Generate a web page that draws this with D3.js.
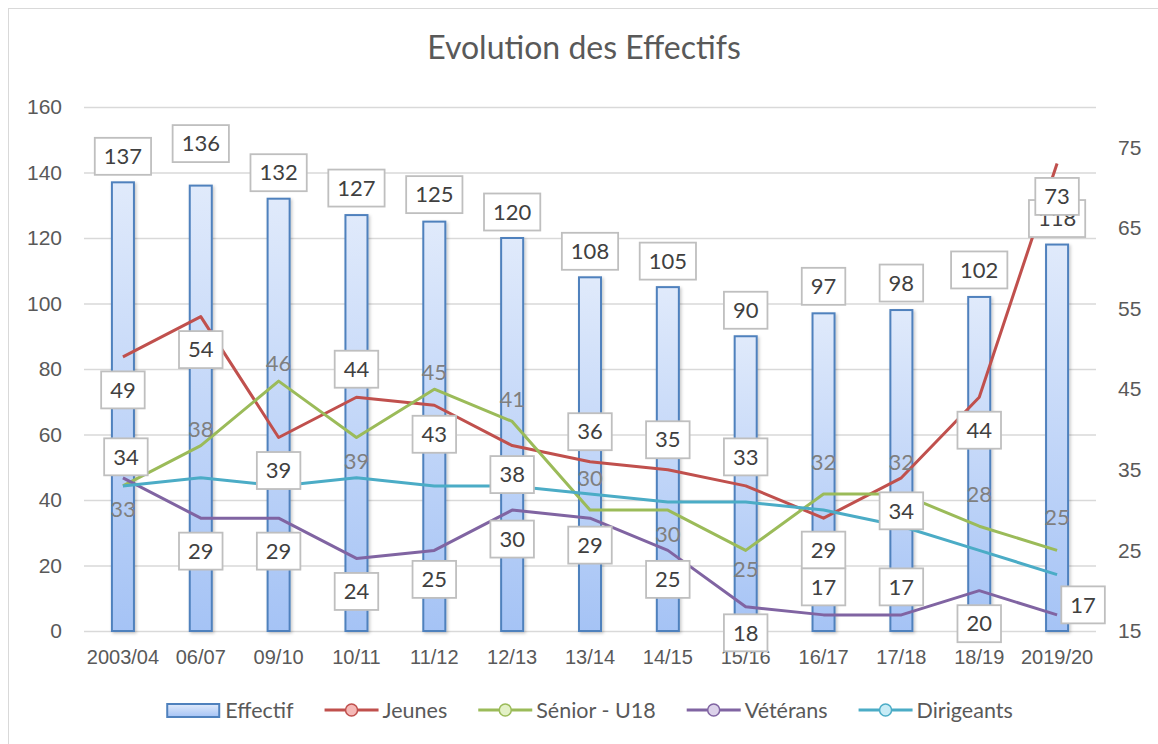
<!DOCTYPE html>
<html>
<head>
<meta charset="utf-8">
<script src="https://cdn.jsdelivr.net/npm/d3@7"></script>
<style>
  body { margin: 0; background: #fff; }
  svg { display: block; font-family: Lato, "Open Sans", sans-serif; }
</style>
</head>
<body>
<div id="chart"></div>
<script>
const categories = ['2003/04', '06/07', '09/10', '10/11', '11/12', '12/13', '13/14', '14/15', '15/16', '16/17', '17/18', '18/19', '2019/20'];
const effectif = [137, 136, 132, 127, 125, 120, 108, 105, 90, 97, 98, 102, 118];
const jeunes = [49, 54, 39, 44, 43, 38, 36, 35, 33, 29, 34, 44, 73];
const senior = [33, 38, 46, 39, 45, 41, 30, 30, 25, 32, 32, 28, 25];
const veterans = [34, 29, 29, 24, 25, 30, 29, 25, 18, 17, 17, 20, 17];
const dirigeants = [33, 34, 33, 34, 33, 33, 32, 31, 31, 30, 28, 25, 22];
const leftTicks = [0, 20, 40, 60, 80, 100, 120, 140, 160];
const rightTicks = [15, 25, 35, 45, 55, 65, 75];

// where each data label sits, offset in px from its point
const effectifLabelDy = [-26, -42, -26, -27, -27, -26, -26, -26, -26, -27, -27, -27, -26];
const jeunesLabelDy = [33, 33, 33, -28, 29, 29, -30, -30, -29, 32, 33, 33, 33];
const seniorLabelDy = [23, -16, -18, 24, -17, -22, -32, 24, 19, -32, -32, -32, -33];
const veteransLabelDy = [-21, 33, 33, 33, 29, 29, 27, 29, 26, -28, -28, 33, -10];
const veteransLabelDx = [3, 0, 0, 0, 0, 0, 0, 0, 0, 0, 0, 0, 26];

const width = 1158;
const height = 744;
const plot = { left: 84, right: 1096, top: 107, bottom: 631 };

const svg = d3.select('#chart')
  .append('svg')
  .attr('width', width)
  .attr('height', height);

const defs = svg.append('defs');
const grad = defs.append('linearGradient')
  .attr('id', 'barFill')
  .attr('x1', 0).attr('y1', 0).attr('x2', 0).attr('y2', 1);
grad.append('stop').attr('offset', '0%').attr('stop-color', '#e0eafb');
grad.append('stop').attr('offset', '100%').attr('stop-color', '#a5c3f5');

const shadow = defs.append('filter').attr('id', 'shadow')
  .attr('x', '-30%').attr('y', '-10%').attr('width', '160%').attr('height', '120%');
shadow.append('feDropShadow')
  .attr('dx', 1.5).attr('dy', 1.5).attr('stdDeviation', 1.5)
  .attr('flood-color', '#000').attr('flood-opacity', 0.22);

// chart frame (only top and left edges fall inside the picture)
svg.append('rect')
  .attr('x', 8.5).attr('y', 8.5)
  .attr('width', 1170).attr('height', 760)
  .attr('fill', 'none')
  .attr('stroke', '#d9d9d9');

svg.append('text')
  .attr('x', 584).attr('y', 59)
  .attr('text-anchor', 'middle')
  .attr('fill', '#595959')
  .style('font-size', '32px')
  .text('Evolution des Effectifs');

const x = d3.scaleBand()
  .domain(categories)
  .range([plot.left, plot.right])
  .paddingInner(0.717)
  .paddingOuter(0.3585);

const yLeft = d3.scaleLinear().domain([0, 160]).range([plot.bottom, plot.top]);
const yRight = d3.scaleLinear().domain([15, 80]).range([plot.bottom, plot.top]);
const cx = (d) => x(d) + x.bandwidth() / 2;

// left axis + gridlines
const gLeft = svg.append('g')
  .attr('transform', `translate(${plot.left},0)`)
  .call(d3.axisLeft(yLeft).tickValues(leftTicks).tickSize(-(plot.right - plot.left)).tickPadding(22));
gLeft.select('.domain').remove();
gLeft.selectAll('line').attr('stroke', '#d9d9d9').attr('stroke-width', 1.3);
gLeft.selectAll('text').attr('fill', '#595959').style('font-size', '21px').style('font-family', 'inherit');

// right axis
const gRight = svg.append('g')
  .attr('transform', `translate(${plot.right},0)`)
  .call(d3.axisRight(yRight).tickValues(rightTicks).tickSize(0).tickPadding(22));
gRight.select('.domain').remove();
gRight.selectAll('text').attr('fill', '#595959').style('font-size', '21px').style('font-family', 'inherit');

// category axis
const gBottom = svg.append('g')
  .attr('transform', `translate(0,${plot.bottom})`)
  .call(d3.axisBottom(x).tickSize(0).tickPadding(19));
gBottom.select('.domain').remove();
gBottom.selectAll('text').attr('fill', '#595959').style('font-size', '20px').style('font-family', 'inherit');

// bars
svg.append('g')
  .selectAll('rect')
  .data(effectif)
  .enter()
  .append('rect')
  .attr('x', (d, i) => x(categories[i]))
  .attr('y', (d) => yLeft(d))
  .attr('width', x.bandwidth())
  .attr('height', (d) => yLeft(0) - yLeft(d))
  .attr('fill', 'url(#barFill)')
  .attr('stroke', '#4f81bd')
  .attr('stroke-width', 2)
  .attr('filter', 'url(#shadow)');

const series = [
  { name: 'Jeunes', values: jeunes, color: '#c0504d', light: '#f5b9b7' },
  { name: 'Sénior - U18', values: senior, color: '#9bbb59', light: '#e3f1c6' },
  { name: 'Vétérans', values: veterans, color: '#8064a2', light: '#dcd2ea' },
  { name: 'Dirigeants', values: dirigeants, color: '#4bacc6', light: '#c8ecf6' },
];

const line = d3.line()
  .x((d, i) => cx(categories[i]))
  .y((d) => yRight(d));

series.forEach((s) => {
  svg.append('path')
    .datum(s.values)
    .attr('fill', 'none')
    .attr('stroke', s.color)
    .attr('stroke-width', 3)
    .attr('stroke-linejoin', 'round')
    .attr('d', line);
});

// boxed data label
function boxLabel(g, px, py, text) {
  const t = g.append('text')
    .attr('x', px).attr('y', py)
    .attr('dy', '0.35em')
    .attr('text-anchor', 'middle')
    .attr('fill', '#404040')
    .style('font-size', '22px')
    .text(text);
  const w = t.node().getComputedTextLength() + 18;
  g.insert('rect', 'text:last-child')
    .attr('x', px - w / 2).attr('y', py - 18.5)
    .attr('width', w).attr('height', 37)
    .attr('fill', '#fff')
    .attr('stroke', '#bfbfbf')
    .attr('stroke-width', 1.8);
}

const labels = svg.append('g');

effectif.forEach((v, i) => {
  boxLabel(labels.append('g'), cx(categories[i]), yLeft(v) + effectifLabelDy[i], v);
});

jeunes.forEach((v, i) => {
  boxLabel(labels.append('g'), cx(categories[i]), yRight(v) + jeunesLabelDy[i], v);
});

senior.forEach((v, i) => {
  labels.append('text')
    .attr('x', cx(categories[i]))
    .attr('y', yRight(v) + seniorLabelDy[i])
    .attr('dy', '0.35em')
    .attr('text-anchor', 'middle')
    .attr('fill', '#7f7f7f')
    .style('font-size', '22px')
    .text(v);
});

veterans.forEach((v, i) => {
  boxLabel(labels.append('g'), cx(categories[i]) + veteransLabelDx[i], yRight(v) + veteransLabelDy[i], v);
});

// legend
const legend = svg.append('g');
const legendItems = [{ name: 'Effectif', bar: true }].concat(series);
let lx = 0;
legendItems.forEach((item) => {
  const g = legend.append('g').attr('transform', `translate(${lx},0)`);
  if (item.bar) {
    g.append('rect')
      .attr('x', 0).attr('y', -6)
      .attr('width', 52).attr('height', 13)
      .attr('fill', 'url(#barFill)')
      .attr('stroke', '#4f81bd')
      .attr('stroke-width', 2);
  } else {
    g.append('line')
      .attr('x1', 0).attr('x2', 54).attr('y1', 0).attr('y2', 0)
      .attr('stroke', item.color).attr('stroke-width', 3);
    g.append('circle')
      .attr('cx', 27).attr('cy', 0).attr('r', 6)
      .attr('fill', item.light)
      .attr('stroke', item.color).attr('stroke-width', 1.5);
  }
  const t = g.append('text')
    .attr('x', 58).attr('y', 0).attr('dy', '0.35em')
    .attr('fill', '#595959')
    .style('font-size', '21.5px')
    .text(item.name);
  lx += 58 + t.node().getComputedTextLength() + 31;
});
const legendWidth = lx - 31;
legend.attr('transform', `translate(${(plot.left + plot.right) / 2 - legendWidth / 2},710)`);
</script>
</body>
</html>
